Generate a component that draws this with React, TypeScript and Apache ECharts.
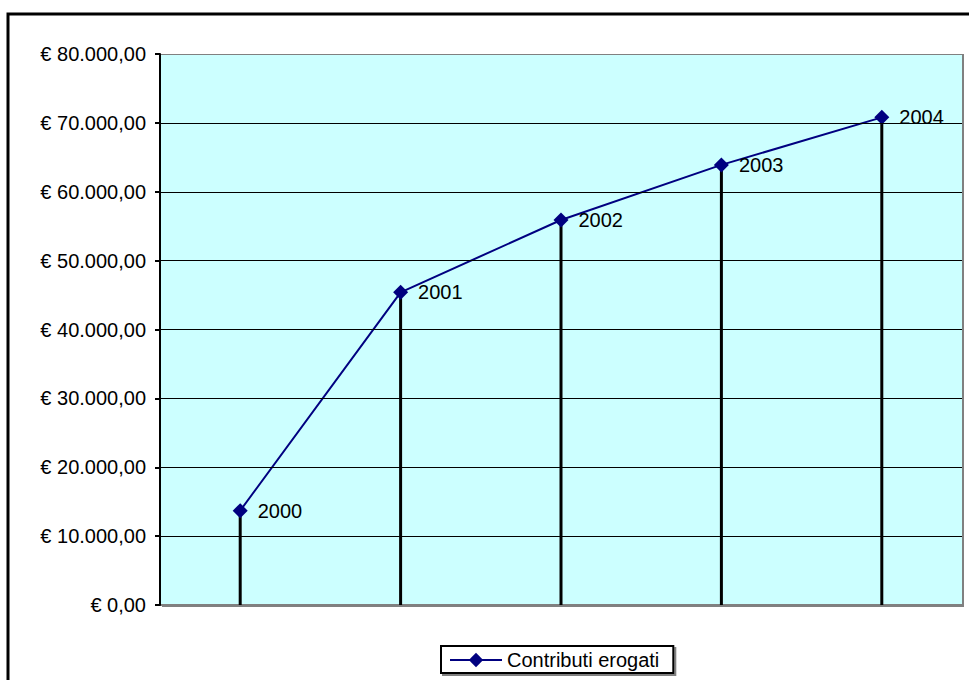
import React, { useEffect, useRef } from "react";
import * as echarts from "echarts";

const categories = ["2000", "2001", "2002", "2003", "2004"];
const contributi = [13700, 45400, 55900, 63900, 70800];
const seriesName = "Contributi erogati";
const yMin = 0;
const yMax = 80000;
const yInterval = 10000;

function formatEuro(v: number): string {
  const s = Math.round(v).toString().replace(/\B(?=(\d{3})+(?!\d))/g, ".");
  return "€ " + s + ",00";
}

export default function App() {
  const ref = useRef<HTMLDivElement>(null);
  useEffect(() => {
    document.body.style.margin = "0";
    const chart = echarts.init(ref.current!, undefined, { renderer: "svg" });
    const font = "Liberation Sans, Arial, sans-serif";
    const gridColors = ["#808080", "#000", "#000", "#000", "#000", "#000", "#000", "#000", "#808080"];
    chart.setOption({
      animation: false,
      backgroundColor: "#ffffff",
      textStyle: { fontFamily: font },
      graphic: [
        {
          type: "rect",
          shape: { x: 8, y: 14, width: 1000, height: 700 },
          style: { fill: "none", stroke: "#000", lineWidth: 3 },
          z: 100,
          silent: true,
        },
        {
          type: "rect",
          shape: { x: 162, y: 605, width: 802, height: 2 },
          style: { fill: "#808080" },
          z: -1,
          silent: true,
        },
        {
          type: "rect",
          shape: { x: 961, y: 54, width: 3, height: 553 },
          style: { fill: "#808080" },
          z: -1,
          silent: true,
        },
      ],
      grid: {
        left: 160,
        top: 54,
        right: 7,
        bottom: 75,
        show: true,
        backgroundColor: "#CCFFFF",
        borderWidth: 0,
      },
      legend: {
        data: [seriesName],
        bottom: 7,
        left: 441,
        itemWidth: 52,
        itemHeight: 18,
        itemGap: 8,
        padding: [4, 14, 3, 8],
        borderColor: "#000",
        borderWidth: 2,
        backgroundColor: "#fff",
        shadowColor: "#808080",
        shadowOffsetX: 2,
        shadowOffsetY: 2,
        shadowBlur: 0,
        textStyle: { fontSize: 20, color: "#000", fontFamily: font },
      },
      xAxis: {
        type: "category",
        data: categories,
        boundaryGap: true,
        axisLine: { show: true, lineStyle: { color: "#808080", width: 2 } },
        axisTick: { show: false },
        axisLabel: { show: false },
        splitLine: { show: false },
      },
      yAxis: {
        type: "value",
        min: yMin,
        max: yMax,
        interval: yInterval,
        z: 5,
        axisLine: { show: true, onZero: false, lineStyle: { color: "#000", width: 2 } },
        axisTick: { show: true, inside: false, length: 5, lineStyle: { color: "#000", width: 2 } },
        axisLabel: {
          margin: 14,
          fontSize: 20,
          color: "#000",
          fontFamily: font,
          formatter: (v: number) => formatEuro(v),
        },
        splitLine: { show: true, lineStyle: { color: gridColors, width: 1 } },
      },
      series: [
        {
          name: "drop",
          type: "bar",
          data: contributi,
          barWidth: 3,
          itemStyle: { color: "#000" },
          silent: true,
          z: 2,
        },
        {
          name: seriesName,
          type: "line",
          data: contributi,
          symbol: "diamond",
          symbolSize: 15,
          lineStyle: { color: "#000080", width: 2 },
          itemStyle: { color: "#000080" },
          label: {
            show: true,
            position: "right",
            distance: 10,
            formatter: (p: any) => p.name,
            fontSize: 20,
            color: "#000",
            fontFamily: font,
          },
          z: 3,
        },
      ],
    });
    return () => chart.dispose();
  }, []);
  return <div ref={ref} style={{ width: 969, height: 680 }} />;
}
